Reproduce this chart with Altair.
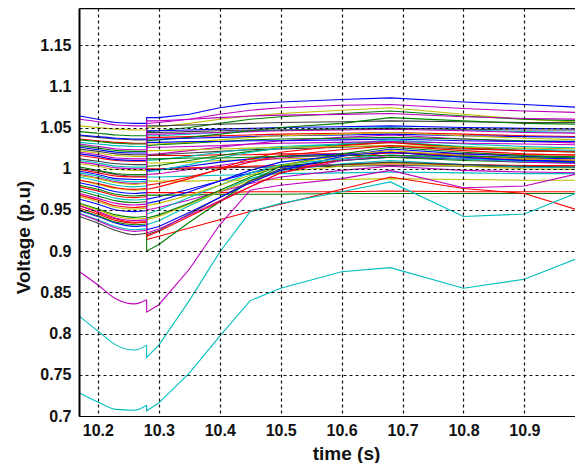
import altair as alt
import pandas as pd

# time stamps: 5 points before the switching instant, 11 points after it
T_PRE = [10.17, 10.20, 10.23, 10.26, 10.28]
T_POST = [10.28, 10.30, 10.35, 10.40, 10.45, 10.50, 10.60, 10.68, 10.80, 10.90, 11.00]

X_TICKS = [10.2, 10.3, 10.4, 10.5, 10.6, 10.7, 10.8, 10.9]
Y_TICKS = [0.7, 0.75, 0.8, 0.85, 0.9, 0.95, 1.0, 1.05, 1.1, 1.15]

# bus voltages (p.u.)
bus01 = [1.064, 1.060, 1.056, 1.055, 1.055, 1.062, 1.062, 1.066, 1.074, 1.079, 1.081, 1.084, 1.086, 1.081, 1.078, 1.074]
bus02 = [1.060, 1.057, 1.053, 1.052, 1.052, 1.055, 1.056, 1.060, 1.066, 1.071, 1.074, 1.077, 1.078, 1.073, 1.070, 1.068]
bus03 = [1.052, 1.050, 1.048, 1.047, 1.047, 1.050, 1.051, 1.055, 1.060, 1.064, 1.067, 1.071, 1.074, 1.066, 1.060, 1.056]
bus04 = [1.045, 1.043, 1.041, 1.040, 1.040, 1.045, 1.046, 1.050, 1.055, 1.060, 1.063, 1.067, 1.070, 1.064, 1.060, 1.058]
bus05 = [1.040, 1.038, 1.036, 1.035, 1.035, 1.052, 1.052, 1.053, 1.054, 1.055, 1.056, 1.057, 1.058, 1.057, 1.056, 1.056]
bus06 = [1.041, 1.039, 1.037, 1.036, 1.036, 1.046, 1.046, 1.047, 1.048, 1.049, 1.050, 1.051, 1.052, 1.050, 1.049, 1.048]
bus07 = [1.032, 1.030, 1.028, 1.027, 1.027, 1.040, 1.040, 1.042, 1.044, 1.046, 1.047, 1.049, 1.050, 1.047, 1.045, 1.044]
bus08 = [1.030, 1.027, 1.024, 1.023, 1.023, 1.042, 1.042, 1.043, 1.044, 1.045, 1.046, 1.047, 1.048, 1.046, 1.044, 1.043]
bus09 = [1.036, 1.034, 1.032, 1.031, 1.031, 1.038, 1.038, 1.039, 1.040, 1.041, 1.042, 1.043, 1.044, 1.042, 1.040, 1.039]
bus10 = [1.035, 1.033, 1.031, 1.030, 1.030, 1.034, 1.035, 1.038, 1.042, 1.046, 1.050, 1.055, 1.062, 1.058, 1.055, 1.054]
bus11 = [1.026, 1.023, 1.020, 1.019, 1.019, 1.036, 1.036, 1.037, 1.038, 1.039, 1.040, 1.041, 1.042, 1.040, 1.039, 1.038]
bus12 = [1.022, 1.019, 1.016, 1.015, 1.015, 1.030, 1.030, 1.032, 1.035, 1.038, 1.040, 1.042, 1.044, 1.040, 1.037, 1.035]
bus13 = [1.020, 1.017, 1.013, 1.012, 1.012, 1.017, 1.018, 1.022, 1.026, 1.030, 1.034, 1.038, 1.041, 1.036, 1.033, 1.031]
bus14 = [1.016, 1.013, 1.010, 1.009, 1.009, 1.016, 1.016, 1.016, 1.017, 1.017, 1.018, 1.018, 1.019, 1.018, 1.017, 1.017]
bus15 = [1.012, 1.009, 1.006, 1.005, 1.005, 1.016, 1.017, 1.019, 1.021, 1.023, 1.024, 1.026, 1.028, 1.024, 1.022, 1.021]
bus16 = [1.010, 1.007, 1.003, 1.002, 1.002, 1.010, 1.011, 1.015, 1.020, 1.024, 1.027, 1.030, 1.033, 1.027, 1.024, 1.022]
bus17 = [1.006, 1.003, 0.999, 0.998, 0.998, 1.007, 1.007, 1.008, 1.010, 1.011, 1.012, 1.013, 1.014, 1.012, 1.011, 1.010]
bus18 = [1.002, 0.998, 0.994, 0.993, 0.993, 1.003, 1.004, 1.010, 1.016, 1.021, 1.025, 1.029, 1.032, 1.026, 1.022, 1.020]
bus19 = [1.000, 0.997, 0.993, 0.991, 0.991, 0.999, 0.999, 1.000, 1.001, 1.002, 1.002, 1.003, 1.004, 1.003, 1.002, 1.002]
bus20 = [0.999, 0.995, 0.991, 0.990, 0.990, 1.000, 1.000, 1.001, 1.002, 1.003, 1.004, 1.005, 1.006, 1.005, 1.004, 1.004]
bus21 = [0.997, 0.993, 0.988, 0.987, 0.987, 0.998, 0.999, 1.003, 1.008, 1.012, 1.015, 1.018, 1.020, 1.016, 1.013, 1.012]
bus22 = [0.993, 0.989, 0.984, 0.982, 0.983, 0.993, 0.994, 0.999, 1.004, 1.009, 1.013, 1.017, 1.020, 1.014, 1.010, 1.008]
bus23 = [0.990, 0.985, 0.980, 0.978, 0.979, 0.990, 0.990, 0.991, 0.992, 0.993, 0.994, 0.995, 0.996, 0.995, 0.994, 0.994]
bus24 = [0.986, 0.981, 0.976, 0.974, 0.975, 0.985, 0.985, 0.985, 0.986, 0.986, 0.987, 0.987, 0.988, 0.987, 0.986, 0.986]
bus25 = [0.983, 0.978, 0.972, 0.970, 0.971, 0.963, 0.966, 0.975, 0.985, 0.995, 1.002, 1.010, 1.014, 1.012, 1.010, 1.010]
bus26 = [0.980, 0.975, 0.969, 0.967, 0.968, 0.968, 0.968, 0.968, 0.969, 0.969, 0.969, 0.970, 0.970, 0.970, 0.970, 0.970]
bus27 = [0.978, 0.973, 0.967, 0.965, 0.966, 0.971, 0.971, 0.971, 0.971, 0.972, 0.972, 0.972, 0.973, 0.972, 0.972, 0.972]
bus28 = [0.975, 0.970, 0.964, 0.962, 0.963, 0.932, 0.937, 0.955, 0.972, 0.988, 0.998, 1.006, 1.010, 1.005, 1.002, 1.001]
bus29 = [0.970, 0.964, 0.958, 0.956, 0.957, 0.950, 0.953, 0.962, 0.972, 0.982, 0.990, 0.998, 1.003, 0.998, 0.996, 0.995]
bus30 = [0.966, 0.960, 0.953, 0.951, 0.952, 0.938, 0.942, 0.957, 0.972, 0.986, 0.996, 1.003, 1.007, 1.003, 1.000, 0.999]
bus31 = [0.955, 0.947, 0.939, 0.935, 0.936, 0.914, 0.918, 0.928, 0.938, 0.948, 0.957, 0.975, 0.990, 0.976, 0.970, 0.947]
bus32 = [0.958, 0.951, 0.944, 0.941, 0.942, 0.900, 0.908, 0.935, 0.960, 0.985, 1.003, 1.010, 1.014, 1.010, 1.008, 1.007]
bus33 = [0.942, 0.934, 0.925, 0.920, 0.922, 0.920, 0.925, 0.945, 0.965, 0.985, 1.000, 1.005, 1.008, 1.005, 1.003, 1.002]
bus34 = [0.955, 0.948, 0.940, 0.937, 0.938, 0.922, 0.927, 0.944, 0.961, 0.978, 0.995, 1.010, 1.016, 1.012, 1.008, 1.006]
bus35 = [0.952, 0.945, 0.937, 0.934, 0.935, 0.918, 0.924, 0.942, 0.960, 0.978, 0.995, 1.012, 1.020, 1.015, 1.012, 1.010]
bus36 = [0.949, 0.942, 0.934, 0.930, 0.931, 0.926, 0.930, 0.947, 0.965, 0.983, 0.998, 1.015, 1.024, 1.018, 1.015, 1.013]
bus37 = [0.946, 0.938, 0.930, 0.926, 0.927, 0.945, 0.950, 0.965, 0.980, 0.995, 1.005, 1.012, 1.017, 1.012, 1.009, 1.008]
bus38 = [0.950, 0.943, 0.935, 0.932, 0.933, 0.940, 0.944, 0.958, 0.974, 0.990, 1.004, 1.018, 1.026, 1.020, 1.016, 1.014]
bus39 = [0.957, 0.950, 0.942, 0.939, 0.940, 0.955, 0.958, 0.968, 0.980, 0.992, 1.004, 1.016, 1.022, 1.016, 1.012, 1.010]
bus40 = [0.968, 0.962, 0.955, 0.953, 0.954, 0.975, 0.978, 0.988, 1.000, 1.012, 1.020, 1.028, 1.032, 1.025, 1.022, 1.020]
bus41 = [0.875, 0.859, 0.842, 0.836, 0.841, 0.826, 0.835, 0.878, 0.932, 0.974, 0.980, 0.988, 0.998, 0.977, 0.979, 0.996]
bus42 = [0.821, 0.803, 0.786, 0.780, 0.786, 0.771, 0.786, 0.840, 0.899, 0.948, 0.958, 0.972, 0.984, 0.942, 0.945, 0.975]
bus43 = [0.728, 0.717, 0.708, 0.707, 0.713, 0.706, 0.716, 0.752, 0.797, 0.840, 0.855, 0.875, 0.880, 0.855, 0.866, 0.895]
bus44 = [1.028, 1.025, 1.022, 1.021, 1.021, 1.028, 1.029, 1.031, 1.033, 1.035, 1.036, 1.037, 1.038, 1.036, 1.034, 1.033]
bus45 = [1.018, 1.015, 1.011, 1.010, 1.010, 1.032, 1.032, 1.033, 1.033, 1.034, 1.034, 1.035, 1.036, 1.034, 1.033, 1.033]
bus46 = [1.024, 1.021, 1.018, 1.017, 1.017, 1.044, 1.044, 1.045, 1.046, 1.047, 1.047, 1.048, 1.049, 1.048, 1.047, 1.047]
bus47 = [0.995, 0.991, 0.986, 0.984, 0.985, 0.996, 0.998, 1.005, 1.013, 1.020, 1.025, 1.030, 1.035, 1.030, 1.027, 1.025]
bus48 = [0.992, 0.988, 0.983, 0.981, 0.982, 1.022, 1.022, 1.023, 1.024, 1.025, 1.026, 1.027, 1.028, 1.026, 1.025, 1.024]
bus49 = [0.986, 0.982, 0.977, 0.975, 0.976, 0.980, 0.982, 0.990, 0.999, 1.008, 1.016, 1.023, 1.028, 1.022, 1.018, 1.016]
bus50 = [0.973, 0.967, 0.961, 0.959, 0.960, 1.012, 1.012, 1.013, 1.013, 1.014, 1.015, 1.016, 1.016, 1.015, 1.014, 1.014]
bus51 = [0.963, 0.957, 0.950, 0.948, 0.949, 0.958, 0.961, 0.972, 0.985, 0.998, 1.008, 1.016, 1.020, 1.014, 1.010, 1.008]
bus52 = [1.008, 1.005, 1.001, 1.000, 1.000, 1.026, 1.026, 1.027, 1.028, 1.030, 1.031, 1.032, 1.033, 1.031, 1.030, 1.029]
bus53 = [0.945, 0.937, 0.928, 0.924, 0.925, 1.058, 1.058, 1.060, 1.062, 1.064, 1.065, 1.066, 1.067, 1.063, 1.061, 1.060]

BUSES = [bus01, bus02, bus03, bus04, bus05, bus06, bus07, bus08, bus09, bus10,
         bus11, bus12, bus13, bus14, bus15, bus16, bus17, bus18, bus19, bus20,
         bus21, bus22, bus23, bus24, bus25, bus26, bus27, bus28, bus29, bus30,
         bus31, bus32, bus33, bus34, bus35, bus36, bus37, bus38, bus39, bus40,
         bus41, bus42, bus43, bus44, bus45, bus46, bus47, bus48, bus49, bus50,
         bus51, bus52, bus53]

LINE_COLORS = ["b", "m", "y", "g", "k", "b", "c", "m", "r", "g",
               "b", "y", "m", "r", "k", "c", "y", "g", "k", "r",
               "b", "m", "c", "y", "b", "g", "r", "c", "m", "y",
               "r", "g", "k", "m", "r", "b", "c", "g", "y", "r",
               "m", "c", "c", "g", "b", "k", "c", "y", "r", "g",
               "b", "m", "m"]

MATLAB = {"b": "#0000FF", "g": "#008000", "r": "#FF0000", "c": "#00BFBF",
          "m": "#BF00BF", "y": "#BFBF00", "k": "#404040"}

times = T_PRE + T_POST
n_pre = len(T_PRE)
pre_rows, post_rows = [], []
names = []
for i, vals in enumerate(BUSES):
    name = f"bus{i + 1:02d}"
    names.append(name)
    for step, (t, v) in enumerate(zip(times, vals)):
        row = {"bus": name, "step": step, "t": t, "v": v}
        if step < n_pre:
            pre_rows.append(row)
        if step >= n_pre - 1:
            post_rows.append(row)
df_pre = pd.DataFrame(pre_rows)
df_post = pd.DataFrame(post_rows)

FONT = "Liberation Sans"
x_scale = alt.Scale(domain=[10.169, 10.983], nice=False, zero=False)
y_scale = alt.Scale(domain=[0.7, 1.195], nice=False, zero=False)
color = alt.Color("bus:N", scale=alt.Scale(domain=names,
                                           range=[MATLAB[c] for c in LINE_COLORS]),
                  legend=None)

x_axis = alt.Axis(values=X_TICKS, format="~g", title="time (s)",
                  labelFont=FONT, labelFontSize=16, labelFontWeight="bold",
                  labelColor="#111111", labelPadding=6, labelFlush=False,
                  ticks=False, domainColor="#000000", domainWidth=1,
                  grid=True, gridDash=[3, 3], gridColor="#111111", gridWidth=1.2,
                  titleFont=FONT, titleFontSize=19, titleFontWeight="bold",
                  titleColor="#111111", titleX=267, titleY=28,
                  titleAlign="center", titleBaseline="top", zindex=1)
y_axis = alt.Axis(values=Y_TICKS, format="~g", title="Voltage (p.u)",
                  labelFont=FONT, labelFontSize=16, labelFontWeight="bold",
                  labelColor="#111111", labelPadding=8, labelFlush=False,
                  ticks=False, domainColor="#000000", domainWidth=2,
                  grid=True, gridDash=[3, 3], gridColor="#111111", gridWidth=1.2,
                  titleFont=FONT, titleFontSize=19, titleFontWeight="bold",
                  titleColor="#111111", titleAngle=270, titleX=-56, titleY=229,
                  titleAlign="center", titleBaseline="middle", zindex=1)

pre_lines = alt.Chart(df_pre).mark_line(strokeWidth=1.1, clip=True, interpolate="monotone").encode(
    x=alt.X("t:Q", scale=x_scale, axis=x_axis),
    y=alt.Y("v:Q", scale=y_scale, axis=y_axis),
    color=color,
    order=alt.Order("step:Q"),
)

post_lines = alt.Chart(df_post).mark_line(strokeWidth=1.1, clip=True).encode(
    x=alt.X("t:Q", scale=x_scale, axis=x_axis),
    y=alt.Y("v:Q", scale=y_scale, axis=y_axis),
    color=color,
    order=alt.Order("step:Q"),
)

top_frame = alt.Chart(pd.DataFrame({"t": X_TICKS})).mark_rule(opacity=0).encode(
    x=alt.X("t:Q", scale=x_scale,
            axis=alt.Axis(orient="top", labels=False, ticks=False, grid=False,
                          title=None, domainColor="#000000", domainWidth=1.5)),
)

chart = alt.layer(alt.layer(pre_lines, post_lines), top_frame).resolve_axis(x="independent").properties(
    width=496, height=408,
    autosize=alt.AutoSizeParams(type="none"),
    padding={"left": 71, "top": 0, "right": 0, "bottom": 47},
).configure_view(stroke=None).configure(background="white")

chart.save("out.html", embed_options={"renderer": "svg", "actions": False})
